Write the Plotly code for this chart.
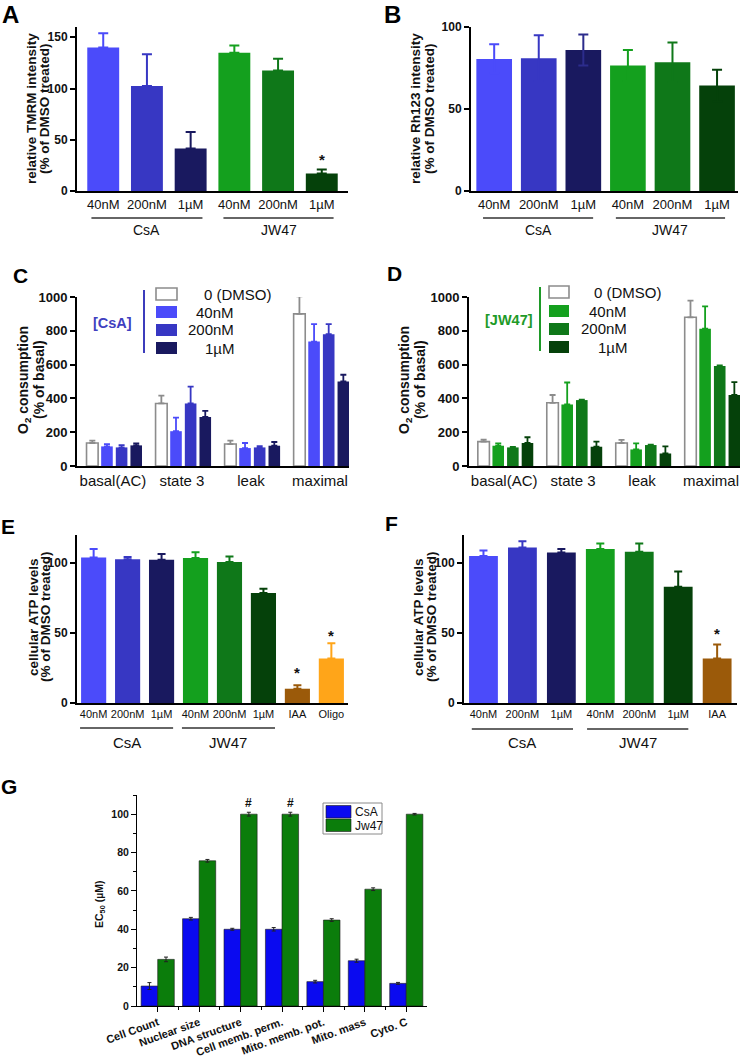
import plotly.graph_objects as go

# ---------------- data ----------------
conc = ["40nM", "200nM", "1µM", "40nM", "200nM", "1µM"]
groups = ["CsA", "JW47"]
bar_colors = ["#4b4bfa", "#3737c3", "#19195f", "#14a01e", "#0f7819", "#05410a"]
iaa_color = "#9b5a0a"
oligo_color = "#ffa519"

a_vals = [140, 102.5, 41.5, 135, 117.5, 17]
a_err = [14, 31, 16, 7, 11.5, 4]

b_vals = [80.5, 81, 86, 76.5, 78.5, 64.3]
b_err = [9, 14, 9.5, 9.5, 12, 9.7]

o2_cats = ["basal(AC)", "state 3", "leak", "maximal"]
o2_doses = ["0 (DMSO)", "40nM", "200nM", "1µM"]
c_vals = [[136, 370, 130, 900], [116, 206, 106, 736], [110, 370, 110, 780], [122, 290, 120, 500]]
c_err = [[14, 46, 20, 104], [14, 80, 30, 104], [14, 100, 8, 60], [12, 36, 22, 40]]
d_vals = [[144, 374, 136, 880], [120, 364, 98, 812], [110, 390, 124, 592], [136, 114, 74, 420]]
d_err = [[12, 46, 18, 98], [14, 130, 36, 132], [3, 3, 3, 3], [34, 30, 42, 76]]
c_colors = ["white", "#4b4bfa", "#3737c3", "#19195f"]
d_colors = ["white", "#14a01e", "#0f7819", "#05410a"]

e_labels = conc + ["IAA", "Oligo"]
e_vals = [104, 102.6, 102.4, 103.6, 100.7, 78.6, 10.2, 31.7]
e_err = [6, 1.7, 4, 4, 4, 3, 2.4, 11]

f_labels = conc + ["IAA"]
f_vals = [105, 111, 107.5, 110, 108, 83, 31.7]
f_err = [4, 4.5, 2.5, 4, 6, 11, 10]

g_cats = ["Cell Count", "Nuclear size", "DNA structure", "Cell memb. perm.",
          "Mito. memb. pot.", "Mito. mass", "Cyto. C"]
g_series = ["CsA", "Jw47"]
g_csa = [10.4, 45.5, 40, 40, 12.7, 23.6, 11.8]
g_csa_err = [1.8, 0.7, 0.5, 0.9, 0.7, 0.8, 0.5]
g_jw = [24.3, 75.7, 100, 100, 44.8, 60.9, 100]
g_jw_err = [1.2, 0.7, 1, 1, 0.7, 0.7, 0.4]
g_colors = ["#0a0af0", "#0b7d0b"]

# ---------------- helpers ----------------
W, H = 745, 1059
FONT = "Liberation Sans, Arial, sans-serif"
DMSO_LINE = "#8c8c8c"


def xd(a, b):
    return [a / W, b / W]


def yd(top, bottom):
    return [1 - bottom / H, 1 - top / H]


def px(p):
    return p / W


def py(p):
    return 1 - p / H


fig = go.Figure()


def single_bars(vals, errs, colors, xa, ya, width, errcolors=None, sym=False, capw=5):
    for i, (v, e) in enumerate(zip(vals, errs)):
        ec = errcolors[i] if errcolors else colors[i]
        fig.add_trace(go.Bar(
            x=[i], y=[v], width=[width], xaxis=xa, yaxis=ya,
            marker=dict(color=colors[i], line=dict(width=0)),
            error_y=dict(type="data", array=[e], arrayminus=[e if sym else 0],
                         symmetric=False, color=ec, thickness=2, width=capw),
            showlegend=False, hoverinfo="skip"))


# A
single_bars(a_vals, a_err, bar_colors, "x", "y", 0.73)
# B
b_errcol = list(bar_colors)
b_errcol[2] = "#2c2c8c"
single_bars(b_vals, b_err, bar_colors, "x2", "y2", 0.8, errcolors=b_errcol, sym=True)

# C & D grouped
slot, bw, g0 = 0.212, 0.168, -0.404
for vals_set, err_set, cols, xa, ya in [(c_vals, c_err, c_colors, "x3", "y3"),
                                        (d_vals, d_err, d_colors, "x4", "y4")]:
    for i, dose in enumerate(o2_doses):
        is_dmso = i == 0
        fig.add_trace(go.Bar(
            x=list(range(len(o2_cats))), y=vals_set[i],
            width=bw, offset=g0 + i * slot + (slot - bw) / 2,
            xaxis=xa, yaxis=ya,
            marker=dict(color=cols[i],
                        line=dict(color=DMSO_LINE if is_dmso else cols[i], width=1.6 if is_dmso else 0)),
            error_y=dict(type="data", array=err_set[i], arrayminus=[0] * 4, symmetric=False,
                         color=DMSO_LINE if is_dmso else cols[i], thickness=1.8, width=3),
            name=dose, showlegend=False, hoverinfo="skip"))

# E
e_colors = bar_colors + [iaa_color, oligo_color]
single_bars(e_vals, e_err, e_colors, "x5", "y5", 0.74, capw=4)
# F
f_colors = bar_colors + [iaa_color]
single_bars(f_vals, f_err, f_colors, "x6", "y6", 0.74, capw=4)

# G
for s, vals, errs, col, off in [(g_series[0], g_csa, g_csa_err, g_colors[0], -0.4),
                                (g_series[1], g_jw, g_jw_err, g_colors[1], 0.0)]:
    fig.add_trace(go.Bar(
        x=list(range(len(g_cats))), y=vals, width=0.4, offset=off,
        xaxis="x7", yaxis="y7",
        marker=dict(color=col, line=dict(color="#1a1a1a", width=0.6)),
        error_y=dict(type="data", array=errs, symmetric=True, color="#222", thickness=1, width=2),
        name=s, showlegend=False, hoverinfo="skip"))

# ---------------- axes ----------------
def xaxis(dom, rng, anchor, tickvals, ticktext, fs, lw=2):
    return dict(domain=dom, range=rng, anchor=anchor, tickvals=tickvals, ticktext=ticktext,
                tickangle=0, showline=True, linecolor="black", linewidth=lw, ticks="",
                showgrid=False, zeroline=False, automargin=False,
                tickfont=dict(family=FONT, size=fs, color="#111"), fixedrange=True)


def yaxis(dom, rng, anchor, tickvals, fs, lw=2, ticklen=5):
    return dict(domain=dom, range=rng, anchor=anchor, tickvals=tickvals,
                showline=True, linecolor="black", linewidth=lw, ticks="outside", ticklen=ticklen,
                tickwidth=lw, tickcolor="black", showgrid=False, zeroline=False, automargin=False,
                tickfont=dict(family=FONT, size=fs, color="#111", weight="bold"), fixedrange=True)


layout = dict(
    width=W, height=H, margin=dict(l=0, r=0, t=0, b=0, pad=0, autoexpand=False),
    paper_bgcolor="white", plot_bgcolor="white", barmode="overlay", showlegend=False,
    font=dict(family=FONT, color="#111"),
    xaxis=xaxis(xd(77, 348), [-0.6, 5.6], "y", list(range(6)), conc, 13),
    yaxis=yaxis(yd(27, 191), [0, 160], "x", [0, 50, 100, 150], 12),
    xaxis2=xaxis(xd(471, 738), [-0.52, 5.47], "y2", list(range(6)), conc, 13),
    yaxis2=yaxis(yd(27, 191), [0, 100], "x2", [0, 50, 100], 12),
    xaxis3=xaxis(xd(77, 349), [-0.52, 3.42], "y3", list(range(4)), o2_cats, 15),
    yaxis3=yaxis(yd(297, 466), [0, 1000], "x3", [0, 200, 400, 600, 800, 1000], 13),
    xaxis4=xaxis(xd(469, 740), [-0.51, 3.42], "y4", list(range(4)), o2_cats, 15),
    yaxis4=yaxis(yd(297, 466), [0, 1000], "x4", [0, 200, 400, 600, 800, 1000], 13),
    xaxis5=xaxis(xd(77, 348), [-0.49, 7.49], "y5", list(range(8)), e_labels, 11),
    yaxis5=yaxis(yd(535, 703), [0, 120], "x5", [0, 50, 100], 12),
    xaxis6=xaxis(xd(464, 737), [-0.5, 6.51], "y6", list(range(7)), f_labels, 11),
    yaxis6=yaxis(yd(535, 703), [0, 120], "x6", [0, 50, 100], 12),
    xaxis7=dict(domain=xd(137, 427), range=[-0.5, 6.5], anchor="y7",
                tickvals=list(range(7)), ticktext=g_cats, tickangle=-20,
                showline=True, linecolor="black", linewidth=1, ticks="outside", ticklen=5,
                tickwidth=1, tickcolor="black", showgrid=False, zeroline=False, automargin=False,
                minor=dict(tickvals=[i + 0.5 for i in range(6)], ticks="outside", ticklen=3,
                           tickwidth=1, tickcolor="black"),
                tickfont=dict(family=FONT, size=11, color="#111", weight="bold"), fixedrange=True),
    yaxis7=dict(domain=yd(795, 1006), range=[0, 110], anchor="x7",
                tickvals=[0, 20, 40, 60, 80, 100], showline=True, linecolor="black", linewidth=1,
                ticks="outside", ticklen=5, tickwidth=1, tickcolor="black", automargin=False,
                minor=dict(tickvals=[10, 30, 50, 70, 90, 110], ticks="outside", ticklen=3,
                           tickwidth=1, tickcolor="black"),
                showgrid=False, zeroline=False,
                tickfont=dict(family=FONT, size=10.5, color="#111", weight="bold"), fixedrange=True),
)
fig.update_layout(**layout)

# ---------------- annotations ----------------
ann = []
shapes = []


def text(x, y, t, size, bold=False, color="#111", angle=0, xref="paper", yref="paper",
         xanchor="center", yanchor="middle"):
    ann.append(dict(x=x, y=y, xref=xref, yref=yref, text=t, showarrow=False, textangle=angle,
                    xanchor=xanchor, yanchor=yanchor,
                    font=dict(family=FONT, size=size, color=color, weight="bold" if bold else "normal")))


# panel letters
for lt, x, y, s in [("A", 10, 14, 24), ("B", 393, 14, 24), ("C", 20, 276, 21), ("D", 394, 273, 21),
                    ("E", 8, 526, 21), ("F", 391, 523, 21), ("G", 9, 786, 21)]:
    text(px(x), py(y), lt, s, bold=True, color="black")

# y titles
text(px(31), py(109), "relative TMRM intensity", 13.5, True, angle=-90)
text(px(44), py(109), "(% of DMSO treated)", 13.5, True, angle=-90)
text(px(415), py(109), "relative Rh123 intensity", 13.5, True, angle=-90)
text(px(429), py(109), "(% of DMSO treated)", 13.5, True, angle=-90)
text(px(24), py(380), "O<sub>2</sub> consumption", 14, True, angle=-90)
text(px(39), py(380), "(% of basal)", 14, True, angle=-90)
text(px(405), py(380), "O<sub>2</sub> consumption", 14, True, angle=-90)
text(px(420), py(380), "(% of basal)", 14, True, angle=-90)
text(px(33), py(617), "cellular ATP levels", 13.5, True, angle=-90)
text(px(45), py(617), "(% of DMSO treated)", 13.5, True, angle=-90)
text(px(418), py(617), "cellular ATP levels", 13.5, True, angle=-90)
text(px(431), py(617), "(% of DMSO treated)", 13.5, True, angle=-90)
text(px(100), py(905), "EC<sub>50</sub> (µM)", 10.5, True, angle=-90)

# group labels + underlines
for xa, ly, ty, spans, fs in [("x", 218, 230, [(-0.27, 2.27), (2.75, 5.27)], 14),
                              ("x2", 218, 230, [(-0.25, 2.22), (2.73, 5.18)], 14),
                              ("x5", 728, 742, [(-0.4, 2.34), (2.6, 5.34)], 15),
                              ("x6", 729, 742, [(-0.3, 2.3), (2.66, 5.26)], 15)]:
    for gname, (a, b) in zip(groups, spans):
        shapes.append(dict(type="line", xref=xa, yref="paper", x0=a, x1=b, y0=py(ly), y1=py(ly),
                           line=dict(color="#333", width=1.6)))
        text((a + b) / 2, py(ty), gname, fs, xref=xa)

# significance marks
text(5, 31, "*", 15, True, xref="x", yref="y")
text(6, 21.5, "*", 15, True, xref="x5", yref="y5")
text(7, 48, "*", 15, True, xref="x5", yref="y5")
text(6, 50, "*", 15, True, xref="x6", yref="y6")
text(2.2, 106, "#", 12, True, xref="x7", yref="y7")
text(3.2, 106, "#", 12, True, xref="x7", yref="y7")

# ---------------- legends (C, D, G) ----------------
def legend_block(line_x, line_top, line_bot, line_col, tag, tag_x, tag_col,
                 sw_x0, sw_x1, rows, cols, left_x, right_x):
    shapes.append(dict(type="line", xref="paper", yref="paper", x0=px(line_x), x1=px(line_x),
                       y0=py(line_top), y1=py(line_bot), line=dict(color=line_col, width=2)))
    text(px(tag_x), py((line_top + line_bot) / 2 + 1), tag, 14.5, True, color=tag_col)
    for i, (dose, r) in enumerate(zip(o2_doses, rows)):
        is_dmso = i == 0
        shapes.append(dict(type="rect", xref="paper", yref="paper",
                           x0=px(sw_x0), x1=px(sw_x1), y0=py(r + 6), y1=py(r - 6),
                           fillcolor=cols[i],
                           line=dict(color=DMSO_LINE if is_dmso else cols[i], width=1.6 if is_dmso else 0)))
        if is_dmso:
            text(px(left_x), py(r), dose, 15, xanchor="left")
        else:
            text(px(right_x), py(r), dose, 15, xanchor="right")


legend_block(144, 290, 353, "#3c3cbc", "[CsA]", 112.5, "#4040c0",
             156, 177, [294, 312, 330, 348], c_colors, 202, 236)
legend_block(540, 287, 351, "#1e9a28", "[JW47]", 509, "#1e9a28",
             549, 569, [292, 311, 329, 347], d_colors, 592, 629)

# G legend box
shapes.append(dict(type="rect", xref="paper", yref="paper", x0=px(323), x1=px(382),
                   y0=py(834), y1=py(803), fillcolor="white", line=dict(color="#8a8a8a", width=1)))
for i, (s, col) in enumerate(zip(g_series, g_colors)):
    top = 805.5 + i * 13.5
    shapes.append(dict(type="rect", xref="paper", yref="paper", x0=px(326), x1=px(351),
                       y0=py(top + 12.5), y1=py(top), fillcolor=col, line=dict(color="#1a1a1a", width=0.6)))
    text(px(353), py(top + 6.5), s, 12, xanchor="left")

fig.update_layout(annotations=ann, shapes=shapes)
fig.write_html("out.html", config={"displayModeBar": False},
               post_script="document.body.style.margin='0';document.body.style.padding='0';"
                           "document.documentElement.style.overflow='hidden';")
